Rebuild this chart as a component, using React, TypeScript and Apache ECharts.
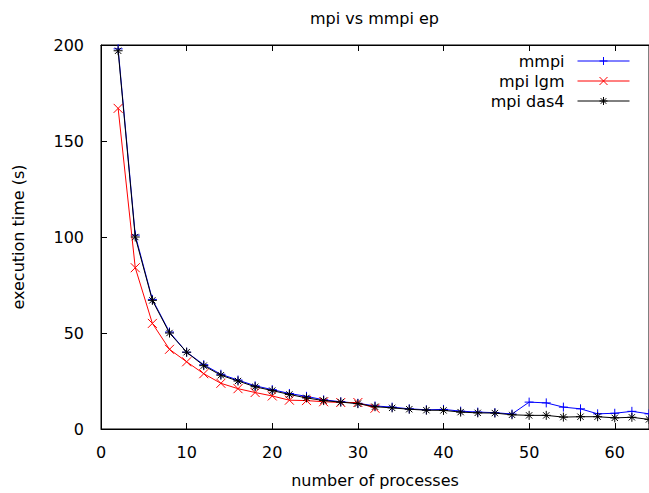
import React, { useEffect, useRef } from "react";
import * as echarts from "echarts";

const titleText = "mpi vs mmpi ep";
const xName = "number of processes";
const yName = "execution time (s)";

const procsAll = [2, 4, 6, 8, 10, 12, 14, 16, 18, 20, 22, 24, 26, 28, 30, 32, 34, 36, 38, 40, 42, 44, 46, 48, 50, 52, 54, 56, 58, 60, 62, 64];
const procsLgm = [2, 4, 6, 8, 10, 12, 14, 16, 18, 20, 22, 24, 26, 28, 30, 32];

const mmpiValues = [198, 101, 67.5, 50.5, 40, 33.5, 28.5, 25.5, 22.5, 20.5, 18.5, 17, 15.2, 14.2, 13.4, 12, 11.4, 10.5, 10, 10.2, 9.3, 8.8, 8.5, 7.8, 14, 13.6, 11.4, 10.5, 7.9, 8.2, 9.2, 7.9];
const lgmValues = [167, 84, 55, 41.5, 35, 28.8, 23.8, 21, 19, 17.2, 15, 14.8, 14.2, 13.8, 13.8, 10.8];
const das4Values = [197, 100, 67, 50, 40, 33, 28, 25, 22, 20, 18, 16.2, 14.8, 14, 13.2, 11.6, 11, 10.3, 9.8, 9.7, 8.8, 8.4, 8.3, 7.4, 7.1, 7.1, 6.2, 6.4, 6.4, 5.8, 6.1, 5];

const seriesNames = ["mmpi", "mpi lgm", "mpi das4"];
const seriesColors = ["#0000ff", "#ff0000", "#000000"];

const plusSym = "path://M0,5L10,5M5,0L5,10";
const crossSym = "path://M0,0L10,10M10,0L0,10";
const starSym = "path://M0,5L10,5M5,0L5,10M1.5,1.5L8.5,8.5M8.5,1.5L1.5,8.5";

const FONT = "DejaVu Sans";

function zip(xs: number[], ys: number[]) {
  return ys.map((y, i) => [xs[i], y]);
}

export default function App() {
  const ref = useRef<HTMLDivElement>(null);
  useEffect(() => {
    if (!ref.current) return;
    const chart = echarts.init(ref.current, undefined, { renderer: "svg" });
    const symbols = [plusSym, crossSym, starSym];
    const datas = [zip(procsAll, mmpiValues), zip(procsLgm, lgmValues), zip(procsAll, das4Values)];
    const legendTops = [53, 73, 93];
    const option: any = {
      animation: false,
      backgroundColor: "#ffffff",
      title: {
        text: titleText,
        left: 305,
        top: 5,
        textStyle: { fontFamily: FONT, fontSize: 16, fontWeight: "normal", color: "#000" },
      },
      legend: seriesNames.map((n, i) => ({
        data: [n],
        orient: "horizontal",
        right: 19,
        top: legendTops[i],
        padding: 0,
        align: "right",
        itemWidth: 52,
        itemHeight: 10,
        selectedMode: false,
        itemStyle: { color: "rgba(0,0,0,0)", borderColor: seriesColors[i], borderWidth: 1 },
        lineStyle: { color: seriesColors[i], width: 1 },
        textStyle: { fontFamily: FONT, fontSize: 16, color: "#000", padding: [0, 8, 0, 0] },
      })),
      grid: {
        left: 101,
        top: 45,
        right: -2,
        bottom: 60,
        show: true,
        borderColor: "#000",
        borderWidth: 1,
        backgroundColor: "transparent",
      },
      xAxis: [
        {
          type: "value",
          min: 0,
          max: 64,
          interval: 10,
          name: xName,
          nameLocation: "middle",
          nameGap: 43,
          nameTextStyle: { fontFamily: FONT, fontSize: 16, color: "#000" },
          axisLine: { show: true, lineStyle: { color: "#000", width: 1 } },
          axisTick: { show: true, inside: true, length: 6, lineStyle: { color: "#000" } },
          axisLabel: { fontFamily: FONT, fontSize: 16, color: "#000", margin: 15, showMaxLabel: false },
          splitLine: { show: false },
        },
        {
          type: "value",
          position: "top",
          min: 0,
          max: 64,
          interval: 10,
          axisLine: { show: true, lineStyle: { color: "#000", width: 1 } },
          axisTick: { show: true, inside: true, length: 6, lineStyle: { color: "#000" } },
          axisLabel: { show: false },
          splitLine: { show: false },
        },
      ],
      yAxis: [
        {
          type: "value",
          min: 0,
          max: 200,
          interval: 50,
          name: yName,
          nameLocation: "middle",
          nameGap: 75,
          nameRotate: 90,
          nameTextStyle: { fontFamily: FONT, fontSize: 16, color: "#000" },
          axisLine: { show: true, lineStyle: { color: "#000", width: 1 } },
          axisTick: { show: true, inside: true, length: 6, lineStyle: { color: "#000" } },
          axisLabel: { fontFamily: FONT, fontSize: 16, color: "#000", margin: 17 },
          splitLine: { show: false },
        },
      ],
      series: seriesNames.map((n, i) => ({
        name: n,
        type: "line",
        data: datas[i],
        xAxisIndex: 0,
        yAxisIndex: 0,
        symbol: symbols[i],
        symbolSize: 9,
        showSymbol: true,
        lineStyle: { color: seriesColors[i], width: 1 },
        itemStyle: { color: "rgba(0,0,0,0)", borderColor: seriesColors[i], borderWidth: 1 },
        emphasis: { disabled: true },
        z: 2 + i,
      })),
    };
    chart.setOption(option);
    return () => chart.dispose();
  }, []);
  return (
    <div
      ref={ref}
      style={{ position: "fixed", left: 0, top: 0, width: 649, height: 493 }}
    />
  );
}
